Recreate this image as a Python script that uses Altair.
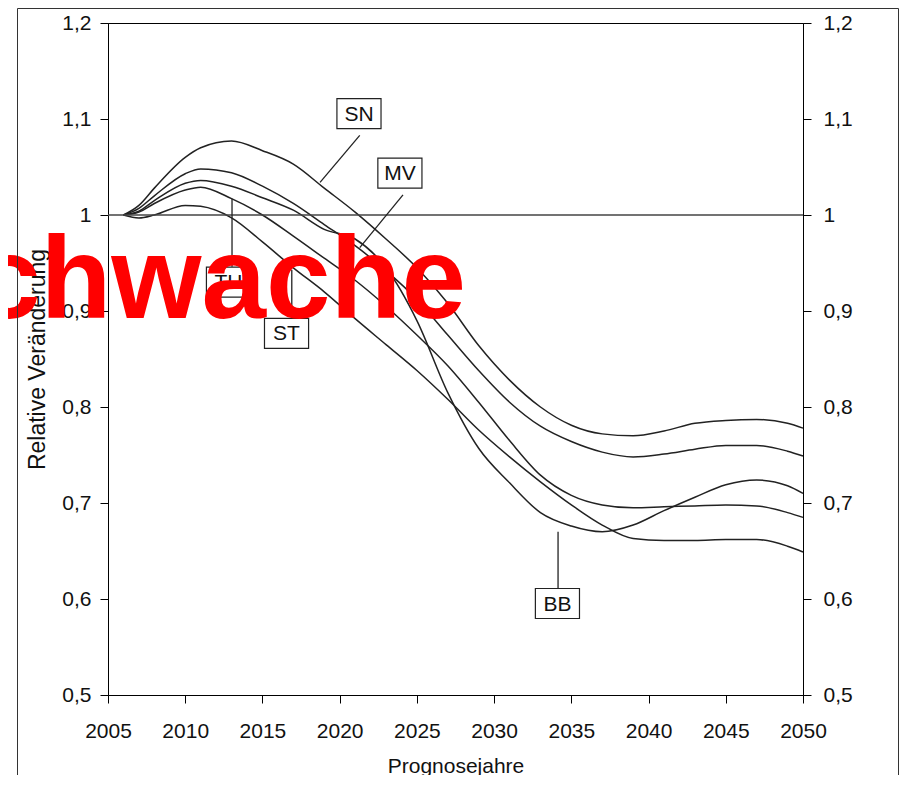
import altair as alt
import pandas as pd

# ---- data ----
years = [2006, 2007, 2008, 2010, 2011, 2013, 2015, 2017, 2019, 2021, 2023, 2025, 2027,
         2029, 2031, 2033, 2035, 2037, 2039, 2041, 2043, 2045, 2047, 2049, 2050]
sn = [1.000, 1.010, 1.028, 1.060, 1.070, 1.077, 1.067, 1.053, 1.028, 1.003, 0.975, 0.945, 0.908,
      0.864, 0.828, 0.800, 0.781, 0.772, 0.770, 0.775, 0.783, 0.786, 0.787, 0.783, 0.778]
mv = [1.000, 1.007, 1.020, 1.043, 1.048, 1.044, 1.030, 1.012, 0.990, 0.968, 0.942, 0.912, 0.875,
      0.838, 0.805, 0.780, 0.764, 0.753, 0.748, 0.751, 0.756, 0.760, 0.760, 0.754, 0.749]
bb = [1.000, 1.004, 1.015, 1.033, 1.036, 1.030, 1.018, 1.005, 0.985, 0.975, 0.945, 0.890, 0.815,
      0.757, 0.721, 0.690, 0.676, 0.670, 0.677, 0.692, 0.706, 0.719, 0.724, 0.718, 0.710]
th = [1.000, 1.003, 1.012, 1.026, 1.029, 1.017, 1.000, 0.978, 0.955, 0.932, 0.905, 0.875, 0.843,
      0.805, 0.765, 0.729, 0.708, 0.698, 0.695, 0.696, 0.697, 0.698, 0.697, 0.690, 0.685]
st = [1.000, 0.997, 1.000, 1.010, 1.009, 0.997, 0.972, 0.945, 0.920, 0.892, 0.865, 0.838, 0.808,
      0.776, 0.748, 0.722, 0.698, 0.677, 0.663, 0.661, 0.661, 0.662, 0.662, 0.655, 0.649]
series_names = ["SN", "MV", "BB", "TH", "ST"]
series_values = [sn, mv, bb, th, st]

x_ticks = [2005, 2010, 2015, 2020, 2025, 2030, 2035, 2040, 2045, 2050]
y_ticks = [0.5, 0.6, 0.7, 0.8, 0.9, 1.0, 1.1, 1.2]
reference_level = [1.0]

label_names = ["SN", "MV", "TH", "ST", "BB"]
label_x = [2021.25, 2023.9, 2012.8, 2016.56, 2034.1]
label_y = [1.1057, 1.0437, 0.930, 0.8766, 0.5953]
leader_x1 = [2021.3, 2024.1, 2013.03, 2016.9, 2034.14]
leader_y1 = [1.083, 1.021, 0.946, 0.893, 0.611]
leader_x2 = [2018.73, 2021.3, 2013.03, 2016.9, 2034.14]
leader_y2 = [1.034, 0.966, 1.017, 0.943, 0.670]

watermark = "Schwache"

# ---- tables ----
rows = []
for name, vals in zip(series_names, series_values):
    for yr, v in zip(years, vals):
        rows.append({"year": yr, "value": v, "series": name})
df = pd.DataFrame(rows)
ref_df = pd.DataFrame({"v": reference_level, "year": [2005]})
lab_df = pd.DataFrame({"name": label_names, "year": label_x, "value": label_y})
lead_df = pd.DataFrame({"year": leader_x1, "value": leader_y1, "year2": leader_x2, "value2": leader_y2})
dummy = pd.DataFrame({"a": [0]})

FONT = "Liberation Sans"
xscale = alt.Scale(domain=[2005, 2050], nice=False, zero=False)
yscale = alt.Scale(domain=[0.5, 1.2], nice=False, zero=False)
ylabel = "replace(format(datum.value, '.1~f'), '.', ',')"
x_axis = alt.Axis(values=x_ticks, format="d", title="Prognosejahre", labelFlush=False,
                  tickSize=8, labelPadding=17, titlePadding=14)
X = alt.X("year:Q", scale=xscale, axis=x_axis)

lines = alt.Chart(df).mark_line(interpolate="monotone", color="#222", strokeWidth=1.5).encode(
    x=X,
    y=alt.Y("value:Q", scale=yscale,
            axis=alt.Axis(orient="left", values=y_ticks, labelExpr=ylabel, labelFlush=False,
                          title="Relative Veränderung", tickSize=8, labelPadding=9,
                          titlePadding=12, titleFontSize=23)),
    detail="series:N",
)

ref_rule = alt.Chart(ref_df).mark_rule(color="#444", strokeWidth=1.5).encode(
    y=alt.Y("v:Q", scale=yscale,
            axis=alt.Axis(orient="right", values=y_ticks, labelExpr=ylabel, title=None,
                          labelFlush=False, tickSize=8, labelPadding=12)),
)

leaders = alt.Chart(lead_df).mark_rule(color="#222", strokeWidth=1.3).encode(
    x=X,
    y=alt.Y("value:Q", scale=yscale, axis=None),
    x2="year2:Q",
    y2="value2:Q",
)

boxes = alt.Chart(lab_df).mark_point(
    shape="M-1.47,-1H1.47V1H-1.47Z", size=900, filled=True, fill="white",
    stroke="#222", strokeWidth=1.2, opacity=1,
).encode(
    x=X,
    y=alt.Y("value:Q", scale=yscale, axis=None),
)

texts = alt.Chart(lab_df).mark_text(font=FONT, fontSize=21, color="#111",
                                    align="center", baseline="middle", dy=1).encode(
    x=X,
    y=alt.Y("value:Q", scale=yscale, axis=None),
    text="name:N",
)

red = alt.Chart(dummy).mark_text(text=watermark, font=FONT, fontWeight="bold", fontSize=116,
                                 color="#ff0000", align="right", baseline="alphabetic").encode(
    x=alt.value(358), y=alt.value(295),
)

frame_left = alt.Chart(dummy).mark_rule(color="#333", strokeWidth=1).encode(
    x=alt.value(-90.5), y=alt.value(-14.5), y2=alt.value(780))
frame_top = alt.Chart(dummy).mark_rule(color="#333", strokeWidth=1).encode(
    x=alt.value(-90.5), x2=alt.value(790.5), y=alt.value(-14.5))
frame_right = alt.Chart(dummy).mark_rule(color="#333", strokeWidth=1).encode(
    x=alt.value(790.5), y=alt.value(-14.5), y2=alt.value(780))

chart = alt.layer(
    lines, ref_rule, leaders, boxes, texts, red,
    frame_left, frame_top, frame_right,
).resolve_axis(y="independent").properties(
    width=695, height=672,
    autosize=alt.AutoSizeParams(type="none"),
    padding={"left": 100, "top": 15, "right": 96, "bottom": 80},
).configure_view(stroke="black", strokeWidth=1).configure_axis(
    grid=False, domainColor="black", tickColor="black", labelColor="#111",
    titleColor="#111", labelFont=FONT, titleFont=FONT, labelFontSize=21,
    titleFontSize=21, titleFontWeight="normal", domainWidth=1, tickWidth=1,
)

chart.save("out.html", embed_options={"renderer": "svg", "actions": False})
